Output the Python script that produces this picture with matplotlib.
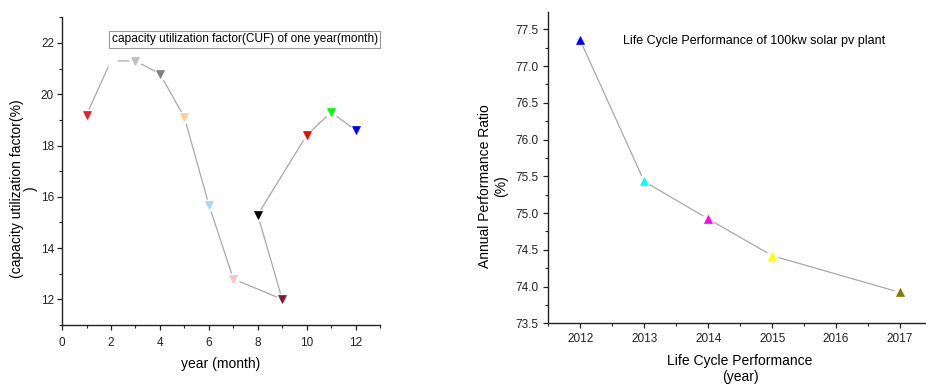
import matplotlib
matplotlib.use("Agg")
import matplotlib.pyplot as plt
from matplotlib.ticker import MultipleLocator

plt.rcParams['font.family'] = ['Liberation Sans', 'DejaVu Sans']

# Left chart data (drawing order as in the reference)
months = [1, 2, 3, 4, 5, 6, 7, 9, 8, 10, 11, 12]
cuf = [19.2, 21.3, 21.3, 20.8, 19.1, 15.7, 12.8, 12.0, 15.3, 18.4, 19.3, 18.6]
cuf_colors = ['#ee1c25', '#ffffff', '#c0c0c0', '#808080', '#ffcc99', '#a6d8f5',
              '#f6c3cc', '#7a1a3a', '#000000', '#ff0000', '#00ff00', '#0000ff']

# Right chart data
years = [2012, 2013, 2014, 2015, 2017]
ratio = [77.35, 75.43, 74.92, 74.42, 73.92]
ratio_colors = ['#0000ff', '#00ffff', '#ff00ff', '#ffff00', '#808000']

fig = plt.figure(figsize=(9.26, 3.85), dpi=100)
ax1 = fig.add_axes([0.0670, 0.1558, 0.3434, 0.7992])
ax2 = fig.add_axes([0.5921, 0.1603, 0.4144, 0.8093])

line_col = '#a8a8a8'
spine_col = '#222222'
tick_fs = 8.5
lab_fs = 10
ms = 5.5

for ax in (ax1, ax2):
    for s in ('top', 'right'):
        ax.spines[s].set_visible(False)
    for s in ('left', 'bottom'):
        ax.spines[s].set_color(spine_col)
        ax.spines[s].set_linewidth(1.0)
    ax.tick_params(which='major', direction='out', length=3.8, width=0.9,
                   colors=spine_col, labelsize=tick_fs, labelcolor='#222222')
    ax.tick_params(which='minor', direction='out', length=2.3, width=0.8,
                   colors=spine_col)

# Left
ax1.plot(months, cuf, color=line_col, lw=0.9, zorder=1)
for x, y, c in zip(months, cuf, cuf_colors):
    ax1.plot([x], [y], marker='o', ms=8, color='white', mec='white', ls='none', zorder=2)
    ax1.plot([x], [y], marker='v', ms=ms, color=c, mec=c, mew=0.5, ls='none', zorder=3)
ax1.set_xlim(0, 13)
ax1.set_ylim(11, 23)
ax1.xaxis.set_major_locator(MultipleLocator(2))
ax1.xaxis.set_minor_locator(MultipleLocator(1))
ax1.yaxis.set_minor_locator(MultipleLocator(1))
ax1.set_yticks([12, 14, 16, 18, 20, 22])
ax1.tick_params(axis='x', which='major', pad=4.5)
ax1.tick_params(axis='y', which='major', pad=2)
ax1.set_xlabel('year (month)', fontsize=lab_fs, labelpad=6)
ax1.set_ylabel('(capacity utilization factor(%)\n)', fontsize=lab_fs, va='center',
               linespacing=1.05)
ax1.yaxis.set_label_coords(-0.12, 0.442)
ax1.text(0.575, 0.928, 'capacity utilization factor(CUF) of one year(month)',
         transform=ax1.transAxes, ha='center', va='center', fontsize=8.6,
         bbox=dict(boxstyle='square,pad=0.2', fc='white', ec='#999999', lw=0.8))

# Right
ax2.plot(years, ratio, color=line_col, lw=0.9, zorder=1)
for x, y, c in zip(years, ratio, ratio_colors):
    ax2.plot([x], [y], marker='o', ms=8, color='white', mec='white', ls='none', zorder=2)
    ax2.plot([x], [y], marker='^', ms=ms, color=c, mec=c, mew=0.5, ls='none', zorder=3)
ax2.set_xlim(2011.5, 2017.5)
ax2.set_ylim(73.5, 77.74)
ax2.xaxis.set_minor_locator(MultipleLocator(0.5))
ax2.yaxis.set_minor_locator(MultipleLocator(0.25))
xt = [2012, 2013, 2014, 2015, 2016, 2017]
ax2.set_xticks(xt)
ax2.set_xticklabels([str(y) for y in xt])
yt = [73.5, 74.0, 74.5, 75.0, 75.5, 76.0, 76.5, 77.0, 77.5]
ax2.set_yticks(yt)
ax2.set_yticklabels(['%.1f' % v for v in yt])
ax2.set_xlabel('Life Cycle Performance\n(year)', fontsize=lab_fs, labelpad=6)
ax2.set_ylabel('Annual Performance Ratio\n(%)', fontsize=lab_fs, va='center')
ax2.yaxis.set_label_coords(-0.144, 0.44)
ax2.text(0.195, 0.905, 'Life Cycle Performance of 100kw solar pv plant',
         transform=ax2.transAxes, ha='left', va='center', fontsize=9)

fig.savefig('out.png', dpi=100)
